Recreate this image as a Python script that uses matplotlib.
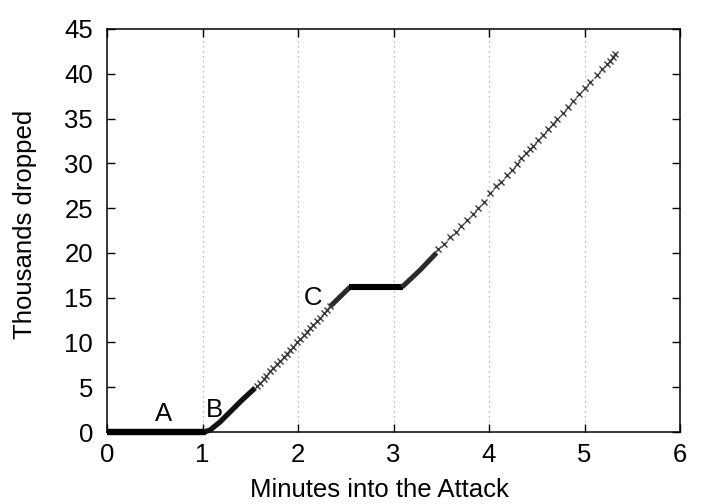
import matplotlib
matplotlib.use("Agg")
import matplotlib.pyplot as plt

plt.rcParams['font.family'] = ['Liberation Sans', 'DejaVu Sans']

# Dense stretches (markers merge into a solid band)
flat1_t = [0.0, 1.04]
flat1_v = [0.0, 0.0]
dense1_t = [1.02, 1.08, 1.183, 1.288, 1.414, 1.55]
dense1_v = [0.0, 0.22, 1.12, 2.23, 3.57, 4.91]

dense2_t = [2.34, 2.545]
dense2_v = [14.05, 16.19]
plateau_t = [2.53, 3.10]
plateau_v = [16.19, 16.19]
dense3_t = [3.09, 3.28, 3.45]
dense3_v = [16.19, 18.1, 20.0]

# Sparse stretches (individual x markers)
sparse1_t = [1.57, 1.60, 1.64, 1.67, 1.71, 1.74, 1.78, 1.81, 1.85, 1.88, 1.92, 1.95,
             1.99, 2.02, 2.06, 2.09, 2.13, 2.16, 2.20, 2.23, 2.27, 2.30, 2.34]
sparse1_v = [5.14, 5.49, 5.95, 6.30, 6.76, 7.11, 7.57, 7.92, 8.38, 8.73, 9.19, 9.54,
             10.00, 10.35, 10.81, 11.16, 11.62, 11.97, 12.43, 12.78, 13.24, 13.59, 14.05]

sparse2_t = [3.469, 3.529, 3.592, 3.651, 3.707, 3.773, 3.83, 3.882, 3.948, 4.011, 4.073,
             4.126, 4.185, 4.24, 4.29, 4.335, 4.387, 4.429, 4.457, 4.51, 4.562, 4.614,
             4.667, 4.715, 4.771, 4.83, 4.883, 4.942, 5.005, 5.058, 5.127, 5.187, 5.239,
             5.267, 5.302, 5.319]
sparse2_v = [20.40, 20.99, 21.74, 22.37, 23.0, 23.67, 24.31, 24.98, 25.72, 26.65, 27.47,
             27.95, 28.7, 29.3, 29.95, 30.56, 31.11, 31.6, 31.93, 32.6, 33.16, 33.8,
             34.39, 34.98, 35.65, 36.32, 36.96, 37.7, 38.37, 39.11, 39.86, 40.53, 41.09,
             41.46, 41.9, 42.2]

annotations = [("A", 0.59, 2.0), ("B", 1.12, 2.5), ("C", 2.16, 15.0)]

x_ticks = [0, 1, 2, 3, 4, 5, 6]
y_ticks = [0, 5, 10, 15, 20, 25, 30, 35, 40, 45]
grid_x = [1, 2, 3, 4, 5]

FS = 18.5

fig = plt.figure(figsize=(7.2, 5.04), dpi=100)
ax = fig.add_axes([107 / 720, 1 - 432 / 504, (680 - 107) / 720, (432 - 29) / 504])

for gx in grid_x:
    ax.axvline(gx, color='#a8a8a8', linestyle=(0, (1, 3)), linewidth=0.9, zorder=0)

band = dict(solid_capstyle='butt', solid_joinstyle='round', clip_on=False, zorder=3)
ax.plot(flat1_t, flat1_v, color='black', linewidth=4.6, **band)
ax.plot(dense1_t, dense1_v, color='#111111', linewidth=3.8, **band)
ax.plot(dense2_t, dense2_v, color='#2a2a2a', linewidth=3.6, **band)
ax.plot(plateau_t, plateau_v, color='black', linewidth=4.4, **band)
ax.plot(dense3_t, dense3_v, color='#2a2a2a', linewidth=3.6, **band)

mk = dict(marker='x', linestyle='none', color='#3a3a3a', markersize=4.8, mew=1.0,
          clip_on=False, zorder=3)
ax.plot(sparse1_t, sparse1_v, **mk)
ax.plot(sparse2_t, sparse2_v, **mk)

for txt, tx, ty in annotations:
    ax.text(tx, ty, txt, fontsize=FS, ha='center', va='center')

ax.set_xlim(0, 6)
ax.set_ylim(0, 45)
ax.set_xticks(x_ticks)
ax.set_yticks(y_ticks)
ax.tick_params(direction='in', length=6, width=1, top=True, right=True,
               labelsize=FS, pad=8)
ax.tick_params(axis='y', pad=10)
for s in ax.spines.values():
    s.set_linewidth(1.1)
ax.set_xlabel('Minutes into the Attack', fontsize=FS, va='center')
ax.set_ylabel('Thousands dropped', fontsize=FS, va='center')
ax.xaxis.set_label_coords(0.476, -0.144)
ax.yaxis.set_label_coords(-0.143, 0.514)

fig.savefig('out.png', dpi=100)
